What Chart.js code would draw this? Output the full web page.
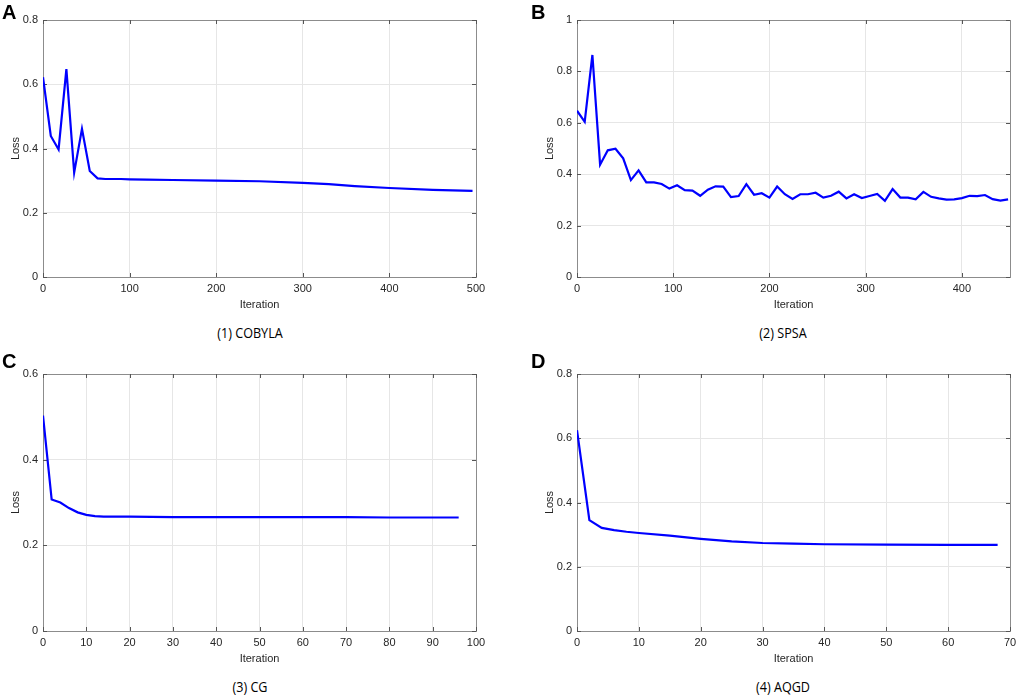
<!DOCTYPE html>
<html>
<head>
<meta charset="utf-8">
<title>Loss curves</title>
<script src="https://cdn.jsdelivr.net/npm/chart.js@4.4.0/dist/chart.umd.min.js"></script>
<style>
  html, body { margin: 0; padding: 0; overflow: hidden; background: #fff; }
  body { width: 1017px; height: 695px; position: relative; font-family: "Liberation Sans", Arial, sans-serif; }
  .panel { position: absolute; width: 500px; height: 320px; }
  .letter { position: absolute; font-weight: bold; font-size: 20px; color: #000; line-height: 1; }
  .caption { position: absolute; font-family: "Open Sans", "Noto Sans", sans-serif; font-size: 14px; color: #000; transform: translate(-50%, -50%) scaleX(0.9); white-space: nowrap; }
</style>
</head>
<body>

<div class="panel" style="left:0;top:0"><canvas id="chartA"></canvas></div>
<div class="panel" style="left:534px;top:0"><canvas id="chartB"></canvas></div>
<div class="panel" style="left:0;top:354px"><canvas id="chartC"></canvas></div>
<div class="panel" style="left:534px;top:354px"><canvas id="chartD"></canvas></div>

<div class="letter" style="left:2px;top:2px">A</div>
<div class="letter" style="left:531px;top:2px">B</div>
<div class="letter" style="left:2px;top:351px">C</div>
<div class="letter" style="left:531px;top:351px">D</div>

<div class="caption" style="left:250px;top:332px">(1) COBYLA</div>
<div class="caption" style="left:783px;top:332px">(2) SPSA</div>
<div class="caption" style="left:250px;top:686px">(3) CG</div>
<div class="caption" style="left:783px;top:686px">(4) AQGD</div>

<script>
// (1) COBYLA
const iterA = [0, 9, 18, 27, 36, 45, 54, 63, 72, 90, 100, 120, 150, 200, 250, 300, 330, 360, 400, 450, 496];
const lossA = [0.622, 0.439, 0.397, 0.647, 0.325, 0.461, 0.330, 0.307, 0.305, 0.305, 0.304, 0.303, 0.302, 0.300, 0.298, 0.293, 0.289, 0.283, 0.277, 0.271, 0.268];
const xTicksA = [0, 100, 200, 300, 400, 500];
const yTicksA = [0, 0.2, 0.4, 0.6, 0.8];

// (2) SPSA
const iterB = [0, 8, 16, 24, 32, 40, 48, 56, 64, 72, 80, 88, 96, 104, 112, 120, 128, 136, 144, 152,
  160, 168, 176, 184, 192, 200, 208, 216, 224, 232, 240, 248, 256, 264, 272, 280, 288, 296, 304, 312,
  320, 328, 336, 344, 352, 360, 368, 376, 384, 392, 400, 408, 416, 424, 432, 440, 448];
const lossB = [0.647, 0.604, 0.864, 0.437, 0.493, 0.499, 0.462, 0.377, 0.415, 0.368, 0.368, 0.362, 0.344, 0.357, 0.338, 0.336, 0.316, 0.340, 0.353, 0.352,
  0.311, 0.315, 0.361, 0.320, 0.326, 0.309, 0.352, 0.322, 0.304, 0.322, 0.322, 0.328, 0.309, 0.316, 0.332, 0.306, 0.322, 0.307, 0.315, 0.323,
  0.296, 0.342, 0.309, 0.309, 0.302, 0.331, 0.312, 0.306, 0.301, 0.302, 0.307, 0.316, 0.315, 0.319, 0.303, 0.297, 0.302];
const xTicksB = [0, 100, 200, 300, 400];
const xMaxB = 450;
const yTicksB = [0, 0.2, 0.4, 0.6, 0.8, 1];

// (3) CG
const iterC = [0, 2, 4, 6, 8, 10, 12, 14, 16, 20, 30, 40, 50, 60, 70, 80, 90, 96];
const lossC = [0.503, 0.307, 0.300, 0.287, 0.277, 0.271, 0.268, 0.267, 0.267, 0.267, 0.266, 0.266, 0.266, 0.266, 0.266, 0.265, 0.265, 0.265];
const xTicksC = [0, 10, 20, 30, 40, 50, 60, 70, 80, 90, 100];
const yTicksC = [0, 0.2, 0.4, 0.6];

// (4) AQGD
const iterD = [0, 2, 4, 6, 8, 10, 15, 20, 25, 30, 35, 40, 50, 60, 68];
const lossD = [0.625, 0.345, 0.321, 0.314, 0.309, 0.305, 0.297, 0.287, 0.279, 0.274, 0.272, 0.270, 0.269, 0.268, 0.268];
const xTicksD = [0, 10, 20, 30, 40, 50, 60, 70];
const yTicksD = [0, 0.2, 0.4, 0.6, 0.8];

const textColor = '#262626';
const gridColor = '#e6e6e6';
const frameColor = '#8c8c8c';

// Box around the plot area plus short inward tick marks (MATLAB look)
const framePlugin = {
  id: 'frame',
  beforeDatasetsDraw(chart) {
    const { ctx, chartArea: a, scales } = chart;
    ctx.save();
    ctx.strokeStyle = frameColor;
    ctx.lineWidth = 1;
    ctx.strokeRect(a.left + 0.5, a.top + 0.5, a.right - a.left, a.bottom - a.top);
    ctx.strokeStyle = '#555';
    ctx.beginPath();
    scales.x.ticks.forEach(t => {
      const px = Math.round(scales.x.getPixelForValue(t.value)) + 0.5;
      ctx.moveTo(px, a.bottom); ctx.lineTo(px, a.bottom - 4);
      ctx.moveTo(px, a.top); ctx.lineTo(px, a.top + 4);
    });
    scales.y.ticks.forEach(t => {
      const py = Math.round(scales.y.getPixelForValue(t.value)) + 0.5;
      ctx.moveTo(a.left, py); ctx.lineTo(a.left + 4, py);
      ctx.moveTo(a.right, py); ctx.lineTo(a.right - 4, py);
    });
    ctx.stroke();
    ctx.restore();
  }
};

function makeChart(id, iters, losses, xTicks, yTicks, xMax) {
  const points = iters.map((x, i) => ({ x: x, y: losses[i] }));
  return new Chart(document.getElementById(id), {
    type: 'line',
    data: {
      datasets: [{
        data: points,
        borderColor: '#0000ff',
        borderWidth: 2.2,
        pointRadius: 0,
        tension: 0,
        fill: false
      }]
    },
    options: {
      responsive: true,
      maintainAspectRatio: false,
      animation: false,
      layout: { padding: { top: 20, right: 24, bottom: 0, left: 0 } },
      plugins: { legend: { display: false }, tooltip: { enabled: false } },
      scales: {
        x: {
          type: 'linear',
          min: xTicks[0],
          max: xMax !== undefined ? xMax : xTicks[xTicks.length - 1],
          afterBuildTicks: s => { s.ticks = xTicks.map(v => ({ value: v })); },
          afterFit: s => { s.height = 43; },
          grid: { color: gridColor, drawTicks: false },
          border: { display: false },
          ticks: {
            color: textColor, padding: 5, maxRotation: 0, autoSkip: false,
            font: { family: 'Liberation Sans', size: 11 },
            callback: v => String(v)
          },
          title: {
            display: true, text: 'Iteration', color: textColor,
            font: { family: 'Liberation Sans', size: 11 },
            padding: { top: 8, bottom: 8 }
          }
        },
        y: {
          min: yTicks[0],
          max: yTicks[yTicks.length - 1],
          afterBuildTicks: s => { s.ticks = yTicks.map(v => ({ value: v })); },
          afterFit: s => { s.width = 43; },
          grid: { color: gridColor, drawTicks: false },
          border: { display: false },
          ticks: {
            color: textColor, padding: 5, autoSkip: false,
            font: { family: 'Liberation Sans', size: 11 },
            callback: v => String(v)
          },
          title: {
            display: true, text: 'Loss', color: textColor,
            font: { family: 'Liberation Sans', size: 11 },
            padding: { top: 9, bottom: 9 }
          }
        }
      }
    },
    plugins: [framePlugin]
  });
}

makeChart('chartA', iterA, lossA, xTicksA, yTicksA);
makeChart('chartB', iterB, lossB, xTicksB, yTicksB, xMaxB);
makeChart('chartC', iterC, lossC, xTicksC, yTicksC);
makeChart('chartD', iterD, lossD, xTicksD, yTicksD);
</script>
</body>
</html>
